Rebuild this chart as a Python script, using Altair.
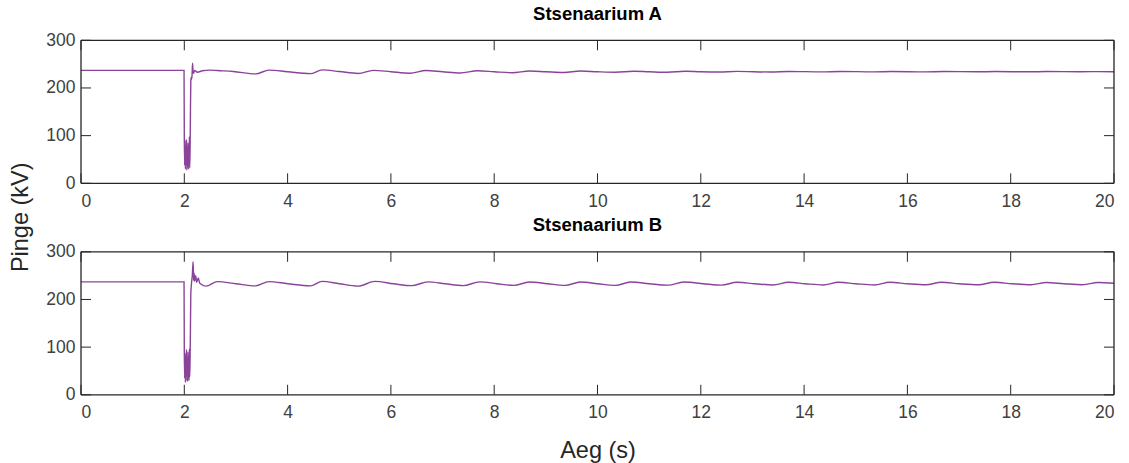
import altair as alt
import pandas as pd

# ---- text ----
panel_titles = ["Stsenaarium A", "Stsenaarium B"]
y_label = ["Pinge (kV)"]
x_label = "Aeg (s)"
x_ticks = [0, 2, 4, 6, 8, 10, 12, 14, 16, 18, 20]
y_ticks = [0, 100, 200, 300]

# ---- Scenario A ----
A_fault_t = [0, 1.995, 2.0, 2.007, 2.014, 2.021, 2.028, 2.035, 2.042, 2.049, 2.056, 2.063, 2.07,
             2.077, 2.084, 2.091, 2.098, 2.105, 2.112, 2.119, 2.126, 2.133, 2.14, 2.15, 2.16, 2.17,
             2.18, 2.2, 2.25, 2.35, 2.5]
A_fault_v = [237, 237, 96, 38, 90, 30, 75, 42, 92, 28, 68, 35, 85, 30, 60, 40, 98, 32, 70, 150,
             215, 222, 218, 226, 252, 234, 231, 237, 233, 236, 237.5]
A_osc_t = [2.64, 2.95, 3.38, 3.64, 4.0, 4.44, 4.67, 5.0, 5.37, 5.66, 6.0, 6.37, 6.68, 7.0, 7.34,
           7.68, 8.0, 8.35, 8.69, 9.0, 9.35, 9.67, 10.0, 10.35, 10.7, 11.0, 11.35, 11.7, 12.0,
           12.35, 12.7, 13.35, 13.7, 14.35, 14.7, 15.35, 15.7, 16.35, 16.7, 17.35, 17.7, 18.35,
           18.7, 19.35, 19.7, 20.0]
A_osc_v = [236.5, 234.5, 229.5, 237.5, 234, 230, 238, 234.5, 230.5, 237, 234, 231, 236.5, 234,
           231.5, 236, 234, 232, 235.5, 234, 232.5, 235.5, 234, 233, 235, 234, 233, 235, 234,
           233.5, 234.8, 233.5, 234.7, 233.7, 234.6, 233.8, 234.5, 233.8, 234.5, 233.9, 234.4,
           233.9, 234.4, 234, 234.3, 234.1]

# ---- Scenario B ----
B_fault_t = [0, 1.995, 2.0, 2.007, 2.014, 2.021, 2.028, 2.035, 2.042, 2.049, 2.056, 2.063, 2.07,
             2.077, 2.084, 2.091, 2.098, 2.105, 2.112, 2.119, 2.126, 2.133, 2.14, 2.155, 2.17,
             2.18, 2.19, 2.2, 2.22, 2.24, 2.27, 2.3, 2.42]
B_fault_v = [237, 237, 92, 35, 88, 26, 80, 40, 95, 30, 72, 28, 90, 35, 62, 30, 96, 38, 75, 140,
             212, 225, 235, 250, 279, 240, 255, 238, 250, 236, 245, 234, 228]
B_osc_t = [2.64, 3.0, 3.38, 3.64, 4.0, 4.44, 4.67, 5.0, 5.37, 5.69, 6.05, 6.4, 6.72, 7.05, 7.4,
           7.72, 8.05, 8.38, 8.68, 9.03, 9.37, 9.67, 10.0, 10.35, 10.64, 11.0, 11.37, 11.67,
           12.05, 12.4, 12.7, 13.05, 13.4, 13.7, 14.02, 14.37, 14.67, 15.0, 15.36, 15.66, 16.0,
           16.36, 16.66, 17.0, 17.38, 17.68, 18.03, 18.39, 18.69, 19.03, 19.39, 19.69, 20.0]
B_osc_v = [237.5, 233, 228.5, 237.5, 233, 228.5, 238, 233, 228, 238, 233, 229, 237, 233, 229,
           237, 233, 229.5, 236.5, 233, 229.5, 236.5, 233, 229.5, 236.5, 233, 230, 236.5, 233,
           230, 236, 233, 230.5, 236, 233, 230.5, 236, 233, 230.5, 236, 233, 231, 236, 233, 231,
           236, 233, 231, 235.5, 233, 231, 235.5, 234]

assert len(A_fault_t) == len(A_fault_v) and len(A_osc_t) == len(A_osc_v)
assert len(B_fault_t) == len(B_fault_v) and len(B_osc_t) == len(B_osc_v)

W, H = 1033, 143
FONT = "Liberation Sans"
LINE = "#7E2F8E"
AX = "#262626"
LBL = "#404040"


def panel(t, v, title, show_xtitle=False, show_ylabel=False):
    df = pd.DataFrame({"t": t, "v": v})
    xs = alt.Scale(domain=[0, 20], nice=False, zero=False)
    ys = alt.Scale(domain=[0, 300], nice=False)
    xaxis = alt.Axis(values=x_ticks, ticks=False, domain=False, grid=False, labelPadding=9,
                     labelFontSize=17.5, labelFont=FONT, labelColor=LBL, format="d",
                     title=x_label if show_xtitle else None, titleFont=FONT, titleFontSize=23.5,
                     titleFontWeight="normal", titleColor=AX, titlePadding=17)
    yaxis = alt.Axis(values=y_ticks, ticks=False, domain=False, grid=False, labelPadding=6,
                     labelFontSize=17.5, labelFont=FONT, labelColor=LBL, title=None)
    X = alt.X("t:Q", scale=xs, axis=xaxis)
    Y = alt.Y("v:Q", scale=ys, axis=yaxis)

    line = alt.Chart(df).mark_line(color=LINE, strokeWidth=1.4, opacity=0.9,
                                   interpolate="monotone").encode(x=X, y=Y)

    xt = pd.DataFrame({"t": x_ticks})
    yt = pd.DataFrame({"v": y_ticks})
    tick_top = alt.Chart(xt).mark_rule(color=AX, strokeWidth=1).encode(
        x=X, y=alt.value(0), y2=alt.value(10))
    tick_bot = alt.Chart(xt).mark_rule(color=AX, strokeWidth=1).encode(
        x=X, y=alt.value(H - 10), y2=alt.value(H))
    tick_l = alt.Chart(yt).mark_rule(color=AX, strokeWidth=1).encode(
        y=Y, x=alt.value(0), x2=alt.value(10))
    tick_r = alt.Chart(yt).mark_rule(color=AX, strokeWidth=1).encode(
        y=Y, x=alt.value(W - 10), x2=alt.value(W))

    # box frame around the plot area
    fr = pd.DataFrame({"k": [0]})
    frame = [
        alt.Chart(fr).mark_rule(color=AX, strokeWidth=1.3).encode(
            x=alt.value(0), x2=alt.value(W), y=alt.value(0)),
        alt.Chart(fr).mark_rule(color=AX, strokeWidth=1.3).encode(
            x=alt.value(0), x2=alt.value(W), y=alt.value(H)),
        alt.Chart(fr).mark_rule(color=AX, strokeWidth=1.3).encode(
            x=alt.value(0), y=alt.value(0), y2=alt.value(H)),
        alt.Chart(fr).mark_rule(color=AX, strokeWidth=1.3).encode(
            x=alt.value(W), y=alt.value(0), y2=alt.value(H)),
    ]

    layers = [line, tick_top, tick_bot, tick_l, tick_r] + frame
    if show_ylabel:
        lab = alt.Chart(pd.DataFrame({"label": y_label})).mark_text(
            angle=270, fontSize=23.5, font=FONT, color=AX, align="center", baseline="middle"
        ).encode(x=alt.value(-60), y=alt.value(H + 34), text="label:N")
        layers.append(lab)

    return alt.layer(*layers).properties(
        width=W, height=H,
        title=alt.Title(title, fontSize=18.5, fontWeight="bold", font=FONT, color="black",
                        offset=8),
    )


pA = panel(A_fault_t + A_osc_t, A_fault_v + A_osc_v, panel_titles[0], show_ylabel=True)
pB = panel(B_fault_t + B_osc_t, B_fault_v + B_osc_v, panel_titles[1], show_xtitle=True)

chart = alt.vconcat(pA, pB, spacing=68.5, bounds="flush").properties(
    padding={"left": 9, "top": 4.3, "right": 5, "bottom": 5},
    background="white",
).configure_view(strokeWidth=0)

chart.save("out.html", embed_options={"renderer": "svg", "actions": False})
